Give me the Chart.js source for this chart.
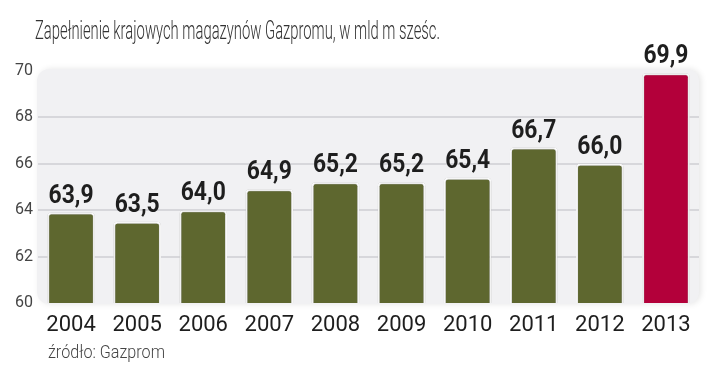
<!DOCTYPE html>
<html>
<head>
<meta charset="utf-8">
<script src="https://cdn.jsdelivr.net/npm/chart.js@4"></script>
<style>
  html, body { margin: 0; padding: 0; background: #fff; }
  #wrap { width: 720px; height: 378px; }
</style>
</head>
<body>
<div id="wrap"><canvas id="magazyny"></canvas></div>
<script>
const years = ['2004', '2005', '2006', '2007', '2008', '2009', '2010', '2011', '2012', '2013'];
const storage = [63.9, 63.5, 64.0, 64.9, 65.2, 65.2, 65.4, 66.7, 66.0, 69.9];
const yTicks = [60, 62, 64, 66, 68, 70];

const olive = '#5e672f';
const red = '#b3003a';
const barColors = years.map((y, i) => (i === years.length - 1 ? red : olive));

const title = 'Zapełnienie krajowych magazynów Gazpromu, w mld m sześc.';
const source = 'źródło: Gazprom';

// draw text squeezed to a given width (the original uses a condensed face)
function squeezed(ctx, text, x, y, width, font, color) {
  ctx.save();
  ctx.font = font;
  ctx.fillStyle = color;
  ctx.textAlign = 'left';
  ctx.textBaseline = 'alphabetic';
  const w = ctx.measureText(text).width;
  ctx.translate(x, y);
  ctx.scale(width / w, 1);
  ctx.fillText(text, 0, 0);
  ctx.restore();
}

const decor = {
  id: 'decor',
  beforeDraw(chart) {
    const ctx = chart.ctx;
    const a = chart.chartArea;
    ctx.save();
    ctx.shadowColor = 'rgba(0,0,0,0.10)';
    ctx.shadowBlur = 6;
    ctx.shadowOffsetX = 2;
    ctx.fillStyle = '#f1f1f3';
    ctx.beginPath();
    ctx.roundRect(a.left - 1, a.top - 2, a.right - a.left + 1, a.bottom - a.top + 3, 12);
    ctx.fill();
    ctx.restore();
  },
  beforeDatasetsDraw(chart) {
    chart.ctx.save();
    chart.ctx.shadowColor = 'rgba(0,0,0,0.35)';
    chart.ctx.shadowBlur = 2;
  },
  afterDatasetsDraw(chart) {
    const ctx = chart.ctx;
    ctx.restore();
    const meta = chart.getDatasetMeta(0);
    ctx.save();
    ctx.font = 'bold 26px Roboto';
    ctx.fillStyle = '#1e1e1e';
    ctx.textAlign = 'center';
    ctx.textBaseline = 'alphabetic';
    meta.data.forEach((bar, i) => {
      const label = storage[i].toFixed(1).replace('.', ',');
      ctx.save();
      ctx.translate(bar.x, bar.y - 10);
      ctx.scale(0.88, 1);
      ctx.fillText(label, 0, 0);
      ctx.restore();
    });
    ctx.restore();
  },
  afterDraw(chart) {
    const ctx = chart.ctx;
    squeezed(ctx, title, 35, 39, 405, '300 25px Roboto', '#333');
    squeezed(ctx, source, 48, 358, 117, '300 18px Roboto', '#444');
  }
};

new Chart(document.getElementById('magazyny'), {
  type: 'bar',
  data: {
    labels: years,
    datasets: [
      {
        label: 'Zapełnienie magazynów',
        data: storage,
        backgroundColor: barColors,
        borderColor: '#ffffff',
        borderWidth: 2,
        borderRadius: 4,
        borderSkipped: false,
        categoryPercentage: 1,
        barPercentage: 0.72,
      },
    ],
  },
  options: {
    responsive: true,
    maintainAspectRatio: false,
    animation: false,
    layout: {
      padding: { top: 71, right: 21, bottom: 35, left: 0 },
    },
    plugins: {
      legend: { display: false },
      tooltip: { enabled: false },
    },
    scales: {
      x: {
        grid: { display: false },
        border: { display: false },
        ticks: {
          color: '#1e1e1e',
          font: { family: 'Roboto', size: 22 },
          padding: 1,
        },
        afterFit(scale) {
          scale.height = 40;
        },
      },
      y: {
        min: 60,
        max: 70,
        afterBuildTicks(scale) {
          scale.ticks = yTicks.map(v => ({ value: v }));
        },
        grid: {
          color: ctx => (ctx.tick && (ctx.tick.value === 60 || ctx.tick.value === 70) ? 'rgba(0,0,0,0)' : '#d7d7db'),
          lineWidth: 2,
          drawTicks: false,
        },
        border: { display: false },
        ticks: {
          color: '#444',
          font: { family: 'Roboto', size: 16 },
          padding: 5,
        },
        afterFit(scale) {
          scale.width = 38;
        },
      },
    },
  },
  plugins: [decor],
});
</script>
</body>
</html>
